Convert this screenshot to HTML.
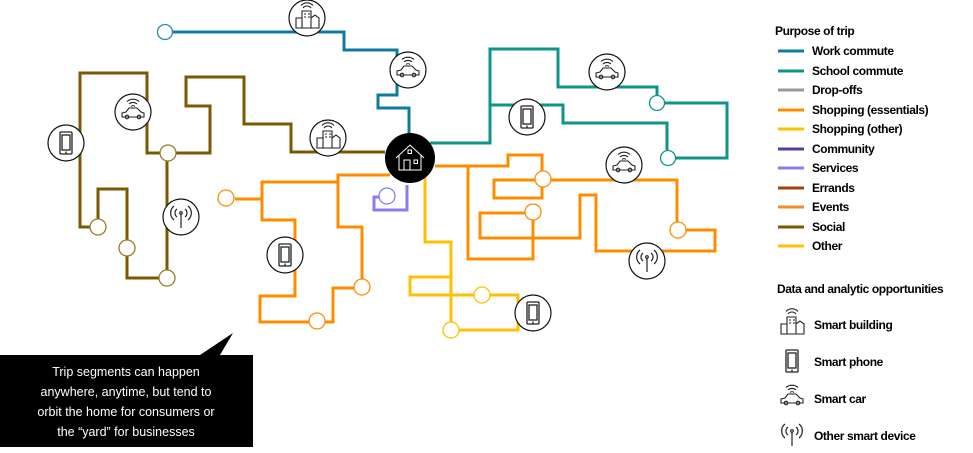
<!DOCTYPE html>
<html><head><meta charset="utf-8"><style>
body{margin:0;background:#fff;}
svg{display:block;font-family:"Liberation Sans Narrow","Liberation Sans",sans-serif;}
.lg{font-size:12px;font-weight:bold;letter-spacing:-0.4px;fill:#000}
</style></head><body>
<svg width="973" height="453" viewBox="0 0 973 453" xmlns="http://www.w3.org/2000/svg">
<defs>
<symbol id="car" viewBox="-18 -18 36 36"><g fill="none" stroke="#222" stroke-width="1.1"><path d="M-4,-8 a6,6 0 0 1 8,0 M-6,-10.5 a9,9 0 0 1 12,0 M-2,-5.5 a3,3 0 0 1 4,0"/><path d="M-11,5 v-4 l4,-1 l3,-4 h8 l4,4 l3,1 v4 z"/><circle cx="-6" cy="5" r="1.8"/><circle cx="6" cy="5" r="1.8"/></g></symbol>
<symbol id="bld" viewBox="-18 -18 36 36"><g fill="none" stroke="#222" stroke-width="1.1"><path d="M-4,-10 a5,5 0 0 1 8,0 M-6,-12.5 a8,8 0 0 1 12,0"/><path d="M-5,-7 h9 v17 h-9 z M-11,0 h6 v10 h-6z M4,0 l4,-3 l4,3 v10 h-8z"/><path d="M-3,-4h2M1,-4h2M-3,-1h2M1,-1h2"/></g></symbol>
<symbol id="ph" viewBox="-18 -18 36 36"><g fill="none" stroke="#222" stroke-width="1.3"><rect x="-6" y="-11" width="12" height="22" rx="1"/><rect x="-4" y="-8" width="8" height="15"/><path d="M0,8.5v2"/></g></symbol>
<symbol id="ant" viewBox="-18 -18 36 36"><g fill="none" stroke="#222" stroke-width="1.2"><path d="M0,-3 v14"/><circle cx="0" cy="-4" r="1.3"/><path d="M-4,-8 a5,5 0 0 0 0,8 M4,-8 a5,5 0 0 1 0,8 M-7,-11 a9,9 0 0 0 0,14 M7,-11 a9,9 0 0 1 0,14"/></g></symbol>
</defs>
<g fill="none" stroke-width="3" stroke-linejoin="miter">
<path stroke="#0E7CA0" d="M173,32 H344 V50 H397 V95 H378 V108 H409 V140"/>
<path stroke="#0F9488" d="M430,143 H490 V49 H558 V87 H657 V95 M490,105 H563 V123 H667 V150"/>
<path stroke="#0F9488" d="M665,103 H727 V158 H676"/>
<path stroke="#FF8C00" d="M435,166 H508 V155 H542 V198 H494 V180 H677 V230 M686,230 H715 V251 H596 V195 H580 V238 H480 V213 H525 M533,220 V259 H468 V165"/>
<path stroke="#FF8C00" d="M390,175 H338 V182 H262 V199 H235 M262,199 V220 H295 V296 H260 V322 H309 M325,322 H333 V288 H354 M362,279 V227 H338 V175"/>
<path stroke="#8C7CF0" d="M407,185 V210 H374 V197 H379"/>
<path stroke="#FFC000" d="M425,175 V242 H451 V322 M451,277 H410 V295 H474 M490,295 H518 V330 H459"/>
<path stroke="#7A5A00" d="M385,152 H291 V124 H244 V77 H186 V106 H210 V153 H176 M160,153 H147 V73 H80 V227 H90 M98,219 V189 H127 V240 M127,256 V278 H159 M167,270 V161"/>
</g>
<g fill="#fff" stroke-width="1.3">
<circle cx="165" cy="32" r="7.5" stroke="#1B8FB5"/>
<circle cx="657" cy="103" r="7.5" stroke="#0F9488"/>
<circle cx="668" cy="158" r="7.5" stroke="#0F9488"/>
<circle cx="543" cy="179" r="8" stroke="#FF8C00"/>
<circle cx="533" cy="212" r="8" stroke="#FF8C00"/>
<circle cx="678" cy="230" r="8" stroke="#FF8C00"/>
<circle cx="226" cy="198" r="8" stroke="#FF8C00"/>
<circle cx="317" cy="321" r="8" stroke="#FF8C00"/>
<circle cx="362" cy="287" r="8" stroke="#FF8C00"/>
<circle cx="387" cy="196" r="8" stroke="#8C7CF0"/>
<circle cx="482" cy="295" r="8" stroke="#FFC000"/>
<circle cx="451" cy="330" r="8" stroke="#FFC000"/>
<circle cx="168" cy="153" r="8" stroke="#9A7A20"/>
<circle cx="98" cy="227" r="8" stroke="#9A7A20"/>
<circle cx="127" cy="248" r="8" stroke="#9A7A20"/>
<circle cx="167" cy="278" r="8" stroke="#9A7A20"/>
</g>
<g fill="#fff" stroke="#111" stroke-width="1.2">
<circle cx="307" cy="18" r="18"/><circle cx="408" cy="70" r="18"/><circle cx="328" cy="138" r="18"/>
<circle cx="133" cy="112" r="18"/><circle cx="66" cy="143" r="18"/><circle cx="181" cy="217" r="18"/>
<circle cx="285" cy="255" r="18"/><circle cx="527" cy="117" r="18"/><circle cx="607" cy="72" r="18"/>
<circle cx="624" cy="165" r="18"/><circle cx="647" cy="261" r="18"/><circle cx="533" cy="313" r="18"/>
</g>
<use href="#bld" x="289" y="0" width="36" height="36"/>
<use href="#car" x="390" y="52" width="36" height="36"/>
<use href="#bld" x="310" y="120" width="36" height="36"/>
<use href="#car" x="115" y="94" width="36" height="36"/>
<use href="#ph" x="48" y="125" width="36" height="36"/>
<use href="#ant" x="163" y="199" width="36" height="36"/>
<use href="#ph" x="267" y="237" width="36" height="36"/>
<use href="#ph" x="509" y="99" width="36" height="36"/>
<use href="#car" x="589" y="54" width="36" height="36"/>
<use href="#car" x="606" y="147" width="36" height="36"/>
<use href="#ant" x="629" y="243" width="36" height="36"/>
<use href="#ph" x="515" y="295" width="36" height="36"/>
<circle cx="410" cy="158" r="25" fill="#000"/>
<g fill="none" stroke="#fff" stroke-width="1"><path d="M396,158 L410,145 L424,158 M399,155 V170 H421 V155 M404,170 V160 H410 V170"/><rect x="408" y="150" width="3.5" height="3.5"/><rect x="414" y="160" width="3.5" height="3.5"/></g>
<path d="M0,355 H200 L233,333 L220,355 H253 V447 H0 Z" fill="#000"/>
<g fill="#fff" font-family="Liberation Sans, sans-serif" font-size="12.5" text-anchor="middle">
<text x="126" y="376">Trip segments can happen</text>
<text x="126" y="396">anywhere, anytime, but tend to</text>
<text x="126" y="416">orbit the home for consumers or</text>
<text x="126" y="436">the “yard” for businesses</text>
</g>
<text class="lg" x="775" y="35">Purpose of trip</text>
<g stroke-width="3">
<path stroke="#0E7CA0" d="M778,51H804"/><path stroke="#0F9488" d="M778,71H804"/><path stroke="#999" d="M778,90H804"/>
<path stroke="#FF8C00" d="M778,110H804"/><path stroke="#FFC000" d="M778,129H804"/><path stroke="#5B3A9E" d="M778,149H804"/>
<path stroke="#8C7CF0" d="M778,168H804"/><path stroke="#A0450A" d="M778,188H804"/><path stroke="#F28C28" d="M778,207H804"/>
<path stroke="#7A5A00" d="M778,227H804"/><path stroke="#FFC000" d="M778,246H804"/>
</g>
<text class="lg" x="812" y="55">Work commute</text>
<text class="lg" x="812" y="75">School commute</text>
<text class="lg" x="812" y="94">Drop-offs</text>
<text class="lg" x="812" y="114">Shopping (essentials)</text>
<text class="lg" x="812" y="133">Shopping (other)</text>
<text class="lg" x="812" y="153">Community</text>
<text class="lg" x="812" y="172">Services</text>
<text class="lg" x="812" y="192">Errands</text>
<text class="lg" x="812" y="211">Events</text>
<text class="lg" x="812" y="231">Social</text>
<text class="lg" x="812" y="250">Other</text>
<text class="lg" x="777" y="293">Data and analytic opportunities</text>
<use href="#bld" x="774" y="306" width="36" height="36"/>
<use href="#ph" x="774" y="343" width="36" height="36"/>
<use href="#car" x="774" y="380" width="36" height="36"/>
<use href="#ant" x="774" y="417" width="36" height="36"/>
<text class="lg" x="814" y="329">Smart building</text>
<text class="lg" x="814" y="366">Smart phone</text>
<text class="lg" x="814" y="403">Smart car</text>
<text class="lg" x="814" y="440">Other smart device</text>
</svg>
</body></html>
